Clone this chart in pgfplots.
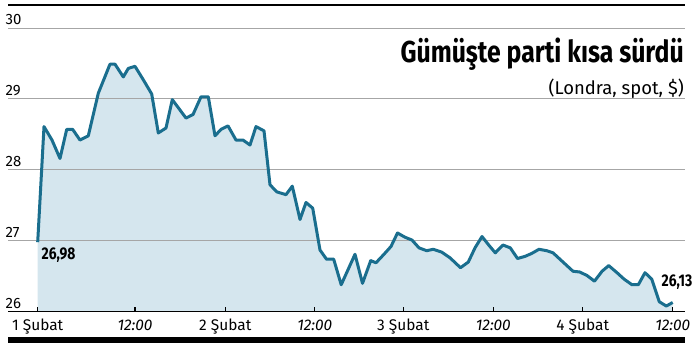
\documentclass[border=0pt]{standalone}
\usepackage{fontspec}
\setmainfont{Fira Sans}
\newfontfamily\condfont{Fira Sans}[FakeStretch=0.82]
\usepackage{pgfplots}
\usepackage{pgfplotstable}
\pgfplotsset{compat=1.18}
\definecolor{lineblue}{HTML}{1A6E8E}
\definecolor{fillblue}{HTML}{D5E6EE}
\definecolor{gridgray}{HTML}{A6A6A6}

\pgfplotstableread{
x y
37.7 26.98
44 28.61
52 28.42
60 28.16
66.7 28.57
72.7 28.57
80 28.42
88.3 28.48
98.3 29.08
110 29.49
115 29.49
123.3 29.31
128.3 29.43
135 29.46
143.3 29.27
151.7 29.07
158.3 28.52
166 28.59
172.3 28.99
186 28.73
193 28.78
201 29.03
208.3 29.03
215 28.48
221 28.57
228 28.62
236 28.42
243 28.42
250 28.35
256 28.61
264 28.55
270 27.79
276.7 27.69
286 27.65
292.3 27.77
300 27.30
306 27.54
312.7 27.46
320 26.87
326.5 26.74
333.7 26.74
341.2 26.38
355 26.81
362.5 26.40
370.7 26.72
376 26.69
384 26.81
391 26.92
397.5 27.11
405 27.05
412 27.01
419 26.90
426.7 26.86
433.3 26.88
441.7 26.84
450 26.76
460.5 26.62
468.3 26.70
475 26.90
482 27.06
489.3 26.93
495.3 26.83
503 26.94
510.3 26.90
517.5 26.75
525 26.78
531.5 26.82
539 26.88
546.7 26.86
553 26.83
563 26.70
573 26.57
579.7 26.56
587 26.51
594.5 26.43
602 26.57
608.7 26.65
617 26.55
624 26.46
632 26.38
638.3 26.38
645 26.55
651.7 26.46
659.3 26.14
666.3 26.08
672.7 26.13
}\silver

\begin{document}
\begin{tikzpicture}
\draw[black, line width=2bp] (8bp,349bp) -- (685bp,349bp);
\fill[black] (8bp,11.3bp) rectangle (685bp,17.3bp);
\begin{axis}[
  set layers,
  at={(8bp,42.3bp)}, anchor=south west,
  scale only axis, width=677bp, height=283.7bp,
  xmin=8, xmax=685, ymin=26, ymax=30,
  axis x line=bottom, axis y line=left,
  axis line style={-},
  x axis line style={black, line width=1.3bp},
  y axis line style={draw=none},
  xtick={37.7,135,225.3,314.7,403.3,493.3,582.7,672.7},
  xticklabels={1 Şubat,\textit{12:00},2 Şubat,\textit{12:00},3 Şubat,\textit{12:00},4 Şubat,\textit{12:00}},
  xtick align=inside,
  major tick length=5bp,
  x tick style={black, line width=1.2bp},
  ytick={26,27,28,29,30},
  y tick style={draw=none},
  ymajorgrids, grid style={gridgray, line width=1bp},
  yticklabel style={anchor=base west, inner sep=0pt, yshift=3.3bp, font=\fontsize{15}{15}\selectfont},
  xticklabel style={anchor=base, yshift=-19bp, font=\fontsize{15.5}{15.5}\selectfont},
  /pgf/number format/assume math mode=true,
  clip=false,
]
\addplot[on layer=axis background, fill=fillblue, draw=none] table {\silver} \closedcycle;
\addplot[lineblue, line width=3bp, line join=round] table {\silver};
\node[anchor=west, inner sep=0pt, font=\condfont\bfseries\fontsize{17}{17}\selectfont] at (axis cs:41.5,26.80) {26,98};
\node[anchor=west, inner sep=0pt, font=\condfont\bfseries\fontsize{17}{17}\selectfont] at (axis cs:661.5,26.41) {26,13};
\end{axis}
\node[anchor=base east, inner sep=0pt, font=\condfont\bfseries\fontsize{30.4}{30}\selectfont] at (684bp,291bp) {Gümüşte parti kısa sürdü};
\node[anchor=base east, inner sep=0pt, font=\fontsize{18.5}{18}\selectfont] at (684bp,259.7bp) {(Londra, spot, \$)};
\pgfresetboundingbox
\path[use as bounding box] (0,0) rectangle (700bp,354bp);
\end{tikzpicture}
\end{document}
